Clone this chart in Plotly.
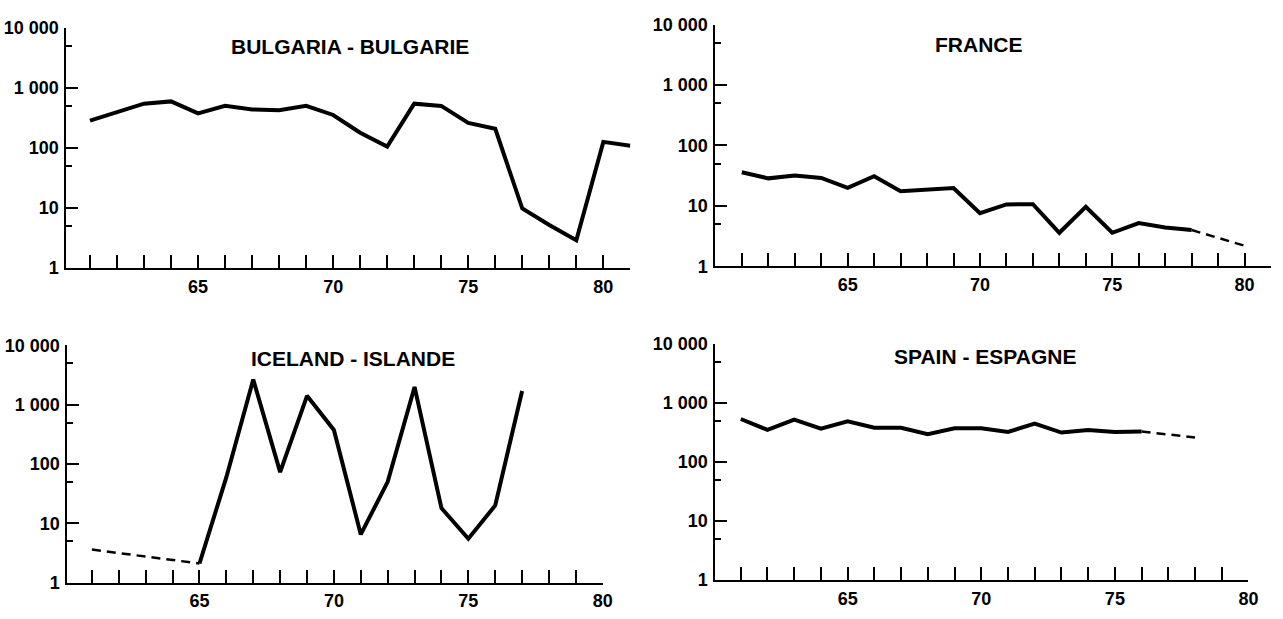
import plotly.graph_objects as go

# ---------------- data ----------------
bul_years = list(range(61, 82))
bul_vals = [284, 400, 545, 594, 376, 500, 436, 425, 500, 353, 179, 105,
            545, 500, 260, 208, 9.8, 5.2, 2.9, 126, 109]

fra_years = list(range(61, 79))
fra_vals = [36, 28.6, 32, 29, 20, 31, 17.5, 18.4, 19.8, 7.6, 10.6, 10.7,
            3.6, 9.7, 3.6, 5.2, 4.4, 4.0]
fra_est_years = [78, 80]
fra_est_vals = [4.0, 2.2]

ice_est_years = [61, 65]
ice_est_vals = [3.6, 2.1]
ice_years = list(range(65, 78))
ice_vals = [2.1, 60, 2660, 73, 1415, 376, 6.5, 50, 2000, 18, 5.5, 20, 1710]

spa_years = list(range(61, 77))
spa_vals = [533, 348, 520, 366, 488, 380, 380, 295, 370, 370, 322, 447,
            314, 348, 322, 327]
spa_est_years = [76, 78]
spa_est_vals = [327, 260]

titles = ["BULGARIA - BULGARIE", "FRANCE", "ICELAND - ISLANDE", "SPAIN - ESPAGNE"]
y_tickvals = [1, 10, 100, 1000, 10000]
y_ticktext = ["1", "10", "100", "1 000", "10 000"]
y_minor = [5, 50, 500, 5000]
x_labeled = [65, 70, 75, 80]

# ---------------- layout geometry (page pixels) ----------------
W, H = 1283, 619
FONT = "Liberation Sans Narrow, Liberation Sans, Arial, sans-serif"

panels = [
    dict(x0=67, x1=635.3, yt=18.3, yb=266.7, xr=[60.13, 81], last=81),
    dict(x0=721, x1=1281, yt=15, yb=265, xr=[60.0, 81], last=81),
    dict(x0=68, x1=607.5, yt=346.7, yb=591.7, xr=[60.09, 80], last=80),
    dict(x0=721, x1=1258.3, yt=345, yb=589, xr=[60.05, 80], last=80),
]
title_pos = [(353, 37.5), (986.5, 36), (356, 360.5), (992.5, 358.3)]


def px(x):
    return x / W


def py(y):
    return 1 - y / H


fig = go.Figure()

solid = dict(color="black", width=4)
dashed = dict(color="black", width=2.5, dash="9px,6px")

series = [
    [(bul_years, bul_vals, solid)],
    [(fra_years, fra_vals, solid), (fra_est_years, fra_est_vals, dashed)],
    [(ice_est_years, ice_est_vals, dashed), (ice_years, ice_vals, solid)],
    [(spa_years, spa_vals, solid), (spa_est_years, spa_est_vals, dashed)],
]

tickfont = dict(family=FONT, size=18, color="black", weight="bold")

layout = dict(
    width=W, height=H,
    margin=dict(l=0, r=0, t=0, b=0),
    paper_bgcolor="white", plot_bgcolor="white",
    showlegend=False,
    annotations=[],
)

for i, p in enumerate(panels):
    n = "" if i == 0 else str(i + 1)
    xa = "x" + n
    ya = "y" + n
    for xs, ys, ln in series[i]:
        fig.add_trace(go.Scatter(x=xs, y=ys, mode="lines", line=ln,
                                 xaxis=xa, yaxis=ya, hoverinfo="skip"))
    years = list(range(61, p["last"] + 1))
    layout["xaxis" + n] = dict(
        domain=[px(p["x0"]), min(px(p["x1"]), 1.0)],
        range=p["xr"],
        anchor=ya,
        showgrid=False, zeroline=False,
        showline=True, linecolor="black", linewidth=2,
        ticks="inside", ticklen=13, tickwidth=2, tickcolor="black",
        tickmode="array", tickvals=years,
        ticktext=[str(y) if y in x_labeled else "" for y in years],
        tickfont=tickfont,
        ticklabelstandoff=1,
    )
    layout["yaxis" + n] = dict(
        domain=[py(p["yb"]), py(p["yt"])],
        type="log", range=[0, 4],
        anchor=xa,
        showgrid=False, zeroline=False,
        showline=True, linecolor="black", linewidth=2,
        ticks="inside", ticklen=12, tickwidth=2, tickcolor="black",
        tickmode="array", tickvals=y_tickvals, ticktext=y_ticktext,
        tickfont=tickfont,
        ticklabelstandoff=2,
        minor=dict(tickvals=y_minor, ticks="inside", ticklen=6,
                   tickwidth=2, tickcolor="black", showgrid=False),
    )
    tx, ty = title_pos[i]
    layout["annotations"].append(dict(
        text=titles[i], x=px(tx), y=py(ty), xref="paper", yref="paper",
        xanchor="center", yanchor="middle", showarrow=False,
        font=dict(family=FONT, size=21, color="black", weight="bold"),
    ))

fig.update_layout(**layout)
# remove the default 8px page margin so the figure starts at the window corner
fig.write_html(
    "out.html",
    config={"displayModeBar": False, "staticPlot": True},
    post_script="document.body.style.margin='0';document.body.style.overflow='hidden';",
)
